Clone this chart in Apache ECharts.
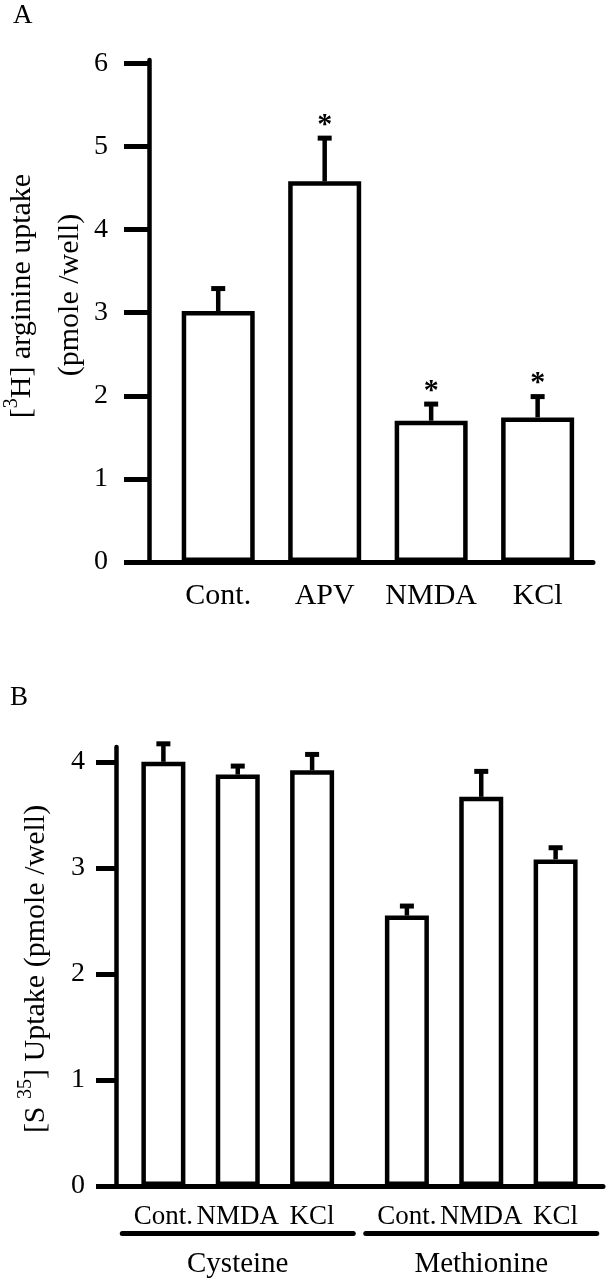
<!DOCTYPE html>
<html>
<head>
<meta charset="utf-8">
<script src="https://cdn.jsdelivr.net/npm/echarts@6/dist/echarts.min.js"></script>
<style>
    html, body { margin: 0; padding: 0; background: #fff; }
    #main { width: 608px; height: 1280px; }
</style>
</head>
<body>
<div id="main"></div>
<script>
// panel A : [3H] arginine uptake
const categoriesA = ['Cont.', 'APV', 'NMDA', 'KCl'];
const valuesA = [3.02, 4.58, 1.70, 1.74];
const errorTopA = [3.29, 5.10, 1.90, 1.99];
const starA = [false, true, true, true];
const ticksA = [0, 1, 2, 3, 4, 5, 6];

// panel B : [S35] uptake
const groupsB = ['Cysteine', 'Methionine'];
const treatmentsB = ['Cont.', 'NMDA', 'KCl'];
const cysteineB = [4.00, 3.88, 3.92];
const cysteineErrB = [4.17, 3.96, 4.07];
const methionineB = [2.55, 3.67, 3.08];
const methionineErrB = [2.64, 3.91, 3.19];
const ticksB = [0, 1, 2, 3, 4];

const FONT = 'Liberation Serif';
const BLACK = '#000';

const chartDom = document.getElementById('main');
const myChart = echarts.init(chartDom, null, {renderer: 'canvas'});

// error bar (and star) drawn on top of each bar
const errorItem = (x, y, top, star) => {
    const children = [
        {type: 'line', shape: {x1: x, y1: y, x2: x, y2: top}, style: {stroke: BLACK, lineWidth: 4.5}},
        {type: 'line', shape: {x1: x - 7, y1: top, x2: x + 7, y2: top}, style: {stroke: BLACK, lineWidth: 5}}
    ];
    if (star) {
        children.push({
            type: 'text', x: x, y: top + 2,
            style: {text: '*', font: 'bold 30px "' + FONT + '"', fill: BLACK, align: 'center', verticalAlign: 'bottom'}
        });
    }
    return {type: 'group', children: children};
};

const renderErrA = (params, api) => {
    const base = api.coord([api.value(0), api.value(1)]);
    const top = api.coord([api.value(0), api.value(2)]);
    return errorItem(base[0], base[1], top[1], api.value(3) === 1);
};

const renderErrB = (params, api) => {
    const layout = api.barLayout({count: treatmentsB.length, barWidth: 44, barGap: '69%'});
    const k = api.value(3);
    const base = api.coord([api.value(0), api.value(1)]);
    const top = api.coord([api.value(0), api.value(2)]);
    return errorItem(base[0] + layout[k].offsetCenter, base[1], top[1], false);
};

const barStyle = {color: '#fff', borderColor: BLACK, borderWidth: 4.5};
const axisLineStyle = (w) => ({show: true, onZero: false, lineStyle: {color: BLACK, width: w}});

const errDataB = [];
treatmentsB.forEach((t, k) => {
    errDataB.push([0, cysteineB[k], cysteineErrB[k], k]);
    errDataB.push([1, methionineB[k], methionineErrB[k], k]);
});

const richLabel = (size) => ({
    n: {fontSize: size, fontFamily: FONT, lineHeight: 40, color: BLACK, verticalAlign: 'middle'},
    sup: {fontSize: 20, fontFamily: FONT, lineHeight: 20, color: BLACK, verticalAlign: 'top'}
});

let option = {
    animation: false,
    textStyle: {fontFamily: FONT, color: BLACK},
    grid: [
        {left: 149, right: 15, top: 60, bottom: 718},
        {left: 116, right: 5, top: 747, bottom: 94}
    ],
    xAxis: [
        {
            gridIndex: 0,
            type: 'value',
            min: -0.65,
            max: 3.52,
            splitLine: {show: false},
            axisLine: axisLineStyle(5),
            axisTick: {show: false},
            axisLabel: {
                customValues: [0, 1, 2, 3],
                formatter: (v) => categoriesA[v],
                fontSize: 30, fontFamily: FONT, color: BLACK, margin: 19
            }
        },
        {
            gridIndex: 1,
            type: 'category',
            data: groupsB,
            axisLine: axisLineStyle(5),
            axisTick: {show: false},
            axisLabel: {
                interval: 0,
                margin: 45,
                formatter: (v) => '{bar| }\n{name|' + v + '}',
                rich: {
                    bar: {width: 236, height: 5, lineHeight: 5, backgroundColor: BLACK, borderRadius: 2.5},
                    name: {fontSize: 29, fontFamily: FONT, color: BLACK, lineHeight: 56}
                }
            }
        }
    ],
    yAxis: [
        {
            gridIndex: 0,
            type: 'value',
            min: 0,
            max: 6.04,
            splitLine: {show: false},
            axisLine: axisLineStyle(4.5),
            axisTick: {show: true, length: 25, lineStyle: {color: BLACK, width: 5}, customValues: ticksA},
            axisLabel: {customValues: ticksA, margin: 41, fontSize: 28, fontFamily: FONT, color: BLACK}
        },
        {
            gridIndex: 1,
            type: 'value',
            min: 0,
            max: 4.14,
            splitLine: {show: false},
            axisLine: axisLineStyle(4.5),
            axisTick: {show: true, length: 20, lineStyle: {color: BLACK, width: 5}, customValues: ticksB},
            axisLabel: {customValues: ticksB, margin: 31, fontSize: 28, fontFamily: FONT, color: BLACK}
        }
    ],
    graphic: [
        {type: 'text', left: 13, top: 2, style: {text: 'A', fontSize: 27, fontFamily: FONT, fill: BLACK}},
        {type: 'text', left: 10, top: 684, style: {text: 'B', fontSize: 27, fontFamily: FONT, fill: BLACK}},
        {
            type: 'text', x: 22, y: 296, rotation: Math.PI / 2,
            style: {text: '{n|[}{sup|3}{n|H] arginine uptake}', rich: richLabel(30), align: 'center', verticalAlign: 'middle'}
        },
        {
            type: 'text', x: 70, y: 295, rotation: Math.PI / 2,
            style: {text: '{n|(pmole /well)}', rich: richLabel(30), align: 'center', verticalAlign: 'middle'}
        },
        {
            type: 'text', x: 36, y: 969, rotation: Math.PI / 2,
            style: {text: '{n|[S }{sup|35}{n|] Uptake (pmole /well)}', rich: richLabel(30), align: 'center', verticalAlign: 'middle'}
        }
    ],
    series: [
        {
            type: 'bar',
            xAxisIndex: 0,
            yAxisIndex: 0,
            barWidth: 73,
            itemStyle: barStyle,
            data: valuesA.map((v, i) => [i, v])
        },
        {
            type: 'custom',
            xAxisIndex: 0,
            yAxisIndex: 0,
            z: 3,
            renderItem: renderErrA,
            data: valuesA.map((v, i) => [i, v, errorTopA[i], starA[i] ? 1 : 0])
        },
        ...treatmentsB.map((t, k) => ({
            type: 'bar',
            name: t,
            xAxisIndex: 1,
            yAxisIndex: 1,
            barWidth: 44,
            barGap: '69%',
            itemStyle: barStyle,
            label: {
                show: true,
                position: 'insideBottom',
                distance: 0,
                offset: [0, 44],
                formatter: t,
                fontSize: 27, fontFamily: FONT, color: BLACK
            },
            data: [cysteineB[k], methionineB[k]]
        })),
        {
            type: 'custom',
            xAxisIndex: 1,
            yAxisIndex: 1,
            z: 3,
            renderItem: renderErrB,
            data: errDataB
        }
    ]
};

option && myChart.setOption(option);
</script>
</body>
</html>
